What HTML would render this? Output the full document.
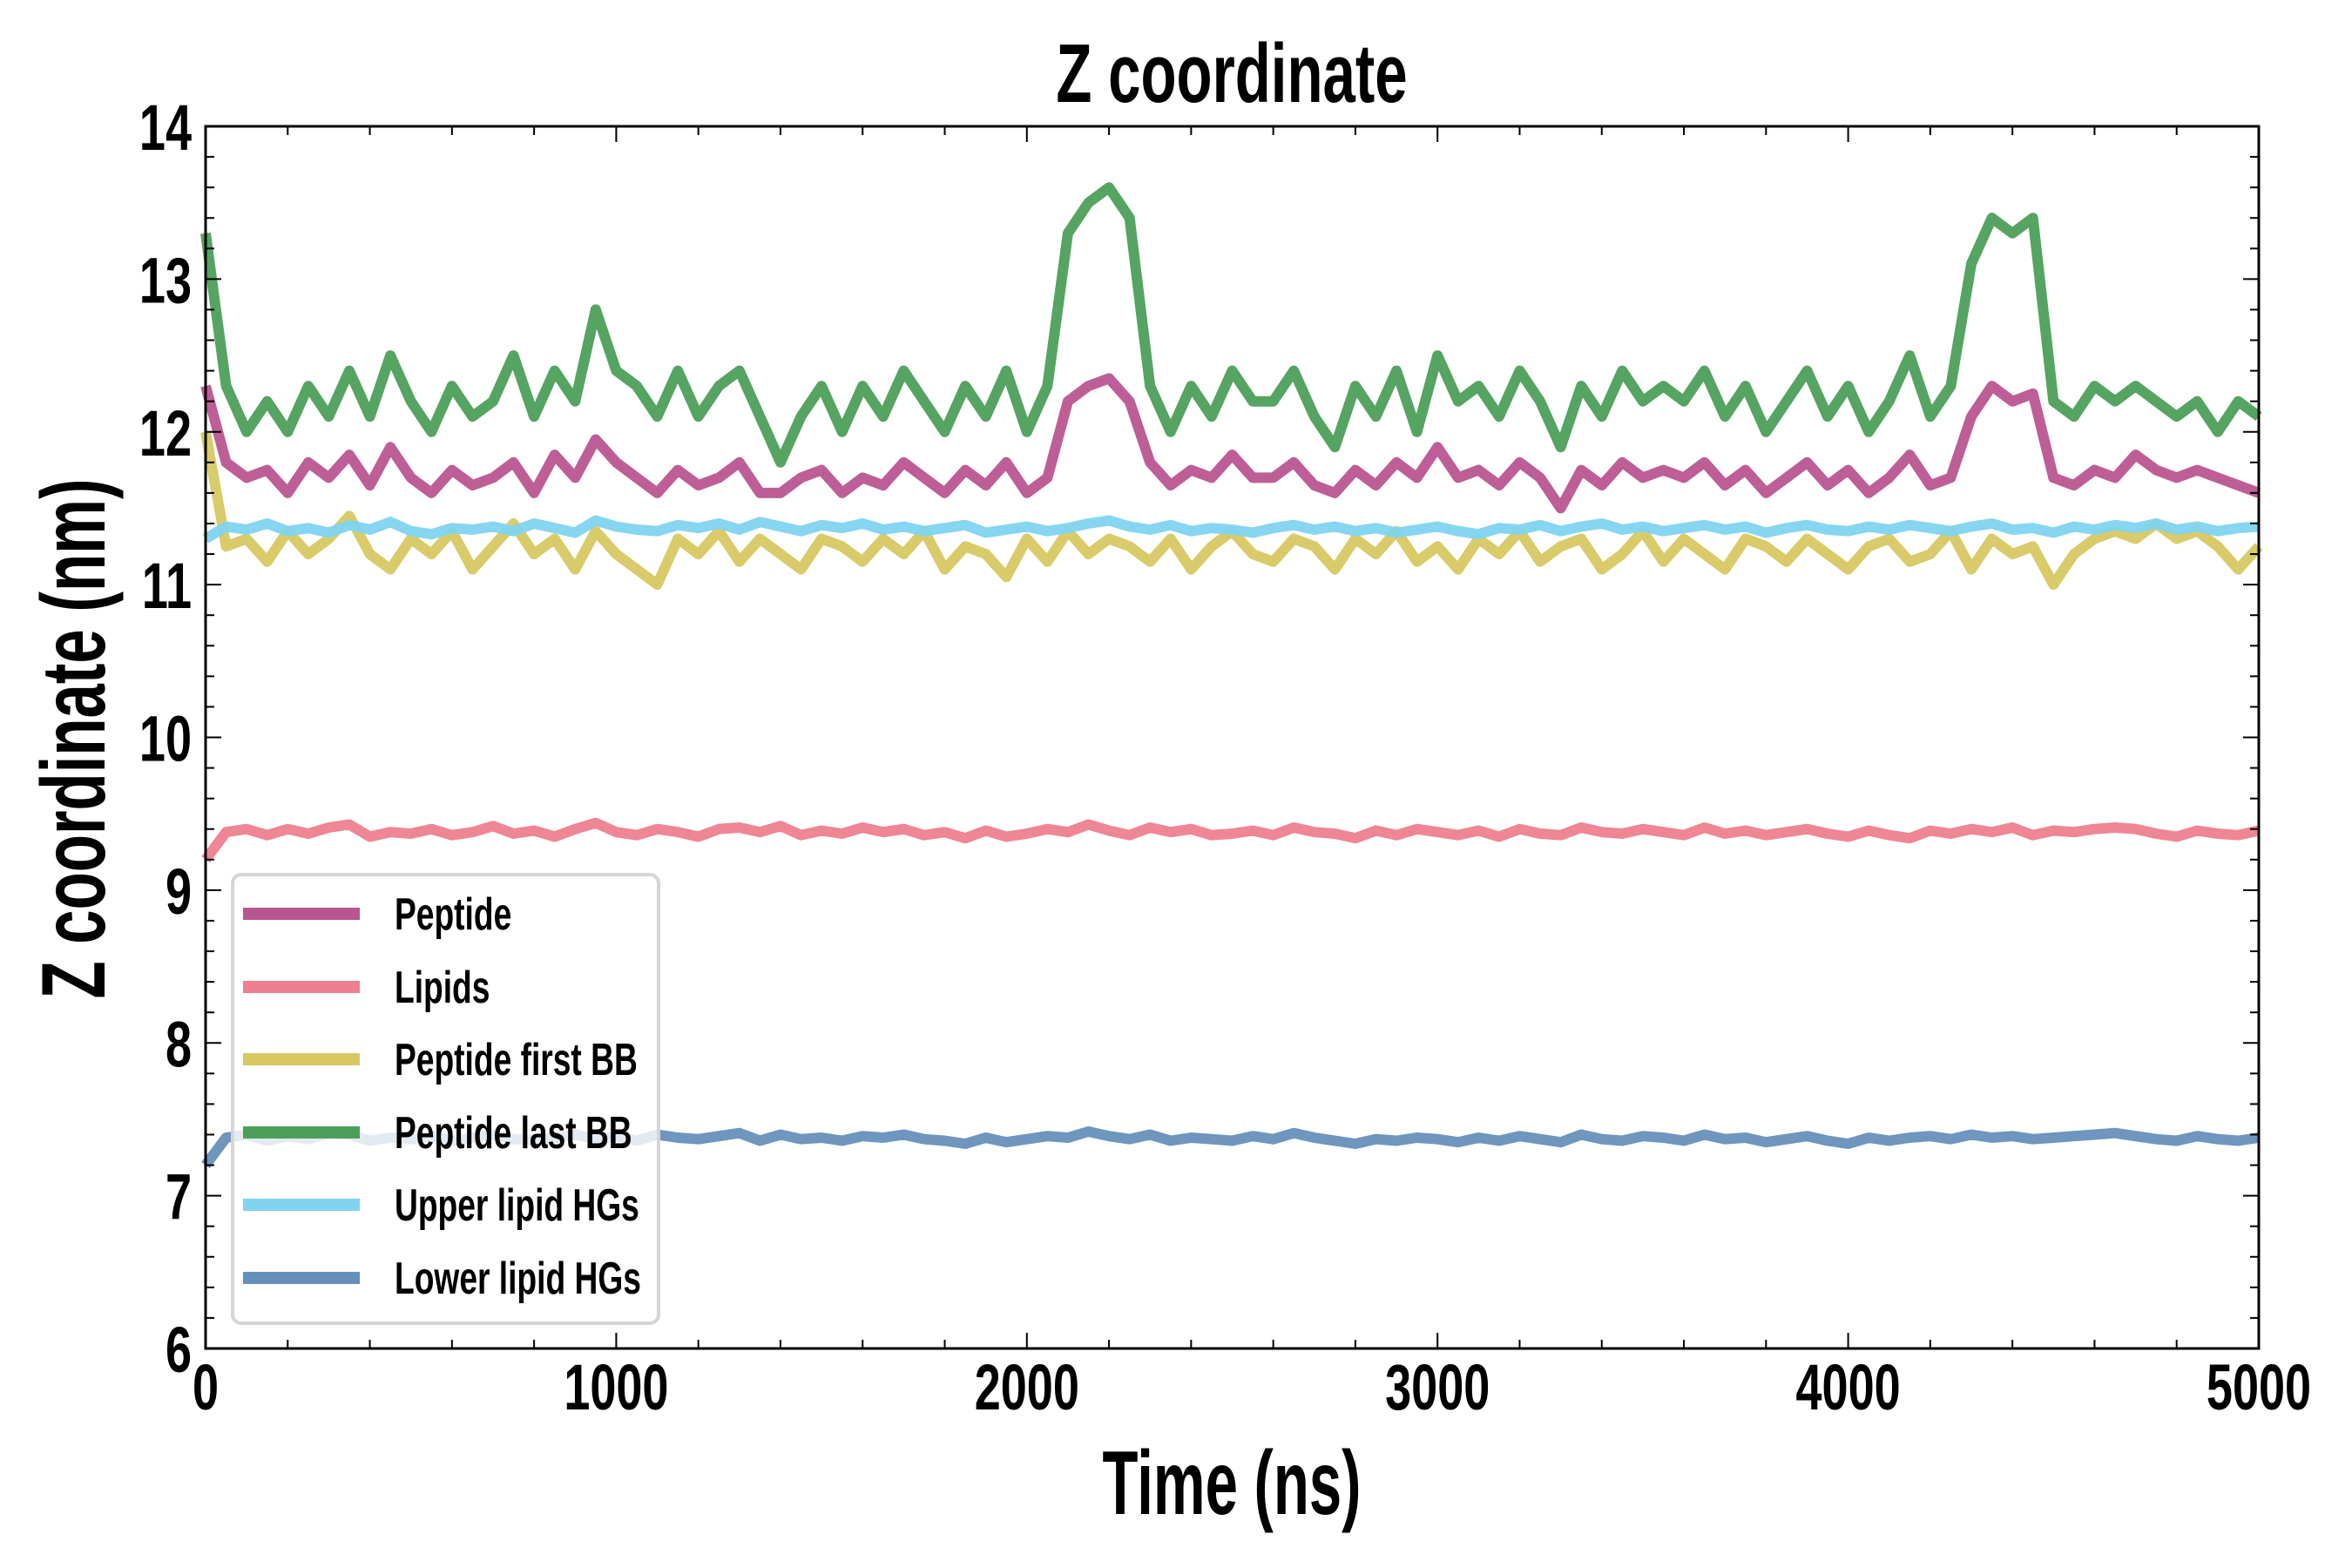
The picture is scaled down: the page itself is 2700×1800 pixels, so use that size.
<!DOCTYPE html>
<html><head><meta charset="utf-8"><style>
body{margin:0;background:#fff;}
svg{display:block;font-family:"Liberation Sans Narrow","Liberation Sans",sans-serif;font-weight:bold;}
</style></head><body>
<svg id="chart" width="2700" height="1800" viewBox="0 0 2700 1800" xmlns="http://www.w3.org/2000/svg">
<rect width="2700" height="1800" fill="#fff"/>
<text transform="translate(1414,117) scale(0.70,1)" font-size="96" text-anchor="middle">Z coordinate</text>
<text transform="translate(1414,1738) scale(0.645,1)" font-size="104" text-anchor="middle">Time (ns)</text>
<text transform="translate(120,848) rotate(-90) scale(0.68,1)" font-size="104" text-anchor="middle">Z coordinate (nm)</text>
<g id="series"></g>
<g id="axes"></g>
<g id="legend"></g>
</svg>
<script>
const times = [];
for (let t = 0; t <= 5000; t += 50) times.push(t);
const seriesNames = ["Peptide","Lipids","Peptide first BB","Peptide last BB","Upper lipid HGs","Lower lipid HGs"];
const peptide = [12.3,11.8,11.7,11.75,11.6,11.8,11.7,11.85,11.65,11.9,11.7,11.6,11.75,11.65,11.7,11.8,11.6,11.85,11.7,11.95,11.8,11.7,11.6,11.75,11.65,11.7,11.8,11.6,11.6,11.7,11.75,11.6,11.7,11.65,11.8,11.7,11.6,11.75,11.65,11.8,11.6,11.7,12.2,12.3,12.35,12.2,11.8,11.65,11.75,11.7,11.85,11.7,11.7,11.8,11.65,11.6,11.75,11.65,11.8,11.7,11.9,11.7,11.75,11.65,11.8,11.7,11.5,11.75,11.65,11.8,11.7,11.75,11.7,11.8,11.65,11.75,11.6,11.7,11.8,11.65,11.75,11.6,11.7,11.85,11.65,11.7,12.1,12.3,12.2,12.25,11.7,11.65,11.75,11.7,11.85,11.75,11.7,11.75,11.7,11.65,11.6];
const lipids = [9.2,9.38,9.4,9.36,9.4,9.37,9.41,9.43,9.35,9.38,9.37,9.4,9.36,9.38,9.42,9.37,9.39,9.35,9.4,9.44,9.38,9.36,9.4,9.38,9.35,9.4,9.41,9.38,9.42,9.36,9.39,9.37,9.41,9.38,9.4,9.36,9.38,9.34,9.39,9.35,9.37,9.4,9.38,9.43,9.39,9.36,9.41,9.38,9.4,9.36,9.37,9.39,9.36,9.41,9.38,9.37,9.34,9.39,9.36,9.4,9.38,9.36,9.39,9.35,9.4,9.37,9.36,9.41,9.38,9.37,9.4,9.38,9.36,9.41,9.37,9.39,9.36,9.38,9.4,9.37,9.35,9.39,9.36,9.34,9.39,9.37,9.4,9.38,9.41,9.36,9.39,9.38,9.4,9.41,9.4,9.37,9.35,9.39,9.37,9.36,9.39];
const firstBB = [12.0,11.25,11.3,11.15,11.35,11.2,11.3,11.45,11.2,11.1,11.3,11.2,11.35,11.1,11.25,11.4,11.2,11.3,11.1,11.35,11.2,11.1,11.0,11.3,11.2,11.35,11.15,11.3,11.2,11.1,11.3,11.25,11.15,11.3,11.2,11.35,11.1,11.25,11.2,11.05,11.3,11.15,11.35,11.2,11.3,11.25,11.15,11.3,11.1,11.25,11.35,11.2,11.15,11.3,11.25,11.1,11.3,11.2,11.35,11.15,11.25,11.1,11.3,11.2,11.35,11.15,11.25,11.3,11.1,11.2,11.35,11.15,11.3,11.2,11.1,11.3,11.25,11.15,11.3,11.2,11.1,11.25,11.3,11.15,11.2,11.35,11.1,11.3,11.2,11.25,11.0,11.2,11.3,11.35,11.3,11.4,11.3,11.35,11.25,11.1,11.25];
const lastBB = [13.3,12.3,12.0,12.2,12.0,12.3,12.1,12.4,12.1,12.5,12.2,12.0,12.3,12.1,12.2,12.5,12.1,12.4,12.2,12.8,12.4,12.3,12.1,12.4,12.1,12.3,12.4,12.1,11.8,12.1,12.3,12.0,12.3,12.1,12.4,12.2,12.0,12.3,12.1,12.4,12.0,12.3,13.3,13.5,13.6,13.4,12.3,12.0,12.3,12.1,12.4,12.2,12.2,12.4,12.1,11.9,12.3,12.1,12.4,12.0,12.5,12.2,12.3,12.1,12.4,12.2,11.9,12.3,12.1,12.4,12.2,12.3,12.2,12.4,12.1,12.3,12.0,12.2,12.4,12.1,12.3,12.0,12.2,12.5,12.1,12.3,13.1,13.4,13.3,13.4,12.2,12.1,12.3,12.2,12.3,12.2,12.1,12.2,12.0,12.2,12.1];
const upperHG = [11.3,11.38,11.36,11.4,11.35,11.37,11.34,11.39,11.36,11.41,11.35,11.33,11.37,11.36,11.38,11.35,11.4,11.37,11.34,11.42,11.38,11.36,11.35,11.39,11.37,11.4,11.36,11.41,11.38,11.35,11.39,11.37,11.4,11.36,11.38,11.35,11.37,11.39,11.34,11.36,11.38,11.35,11.37,11.4,11.42,11.38,11.36,11.39,11.35,11.37,11.36,11.34,11.37,11.39,11.36,11.38,11.35,11.37,11.34,11.36,11.38,11.35,11.33,11.37,11.36,11.39,11.35,11.38,11.4,11.36,11.38,11.35,11.37,11.39,11.36,11.38,11.34,11.37,11.39,11.36,11.35,11.38,11.36,11.39,11.37,11.35,11.38,11.4,11.36,11.37,11.34,11.38,11.36,11.39,11.37,11.4,11.36,11.38,11.35,11.37,11.38];
const lowerHG = [7.2,7.38,7.4,7.36,7.39,7.37,7.41,7.4,7.36,7.38,7.37,7.39,7.36,7.38,7.4,7.37,7.36,7.38,7.4,7.37,7.39,7.36,7.4,7.38,7.37,7.39,7.41,7.36,7.4,7.37,7.38,7.36,7.39,7.38,7.4,7.37,7.36,7.34,7.38,7.35,7.37,7.39,7.38,7.42,7.39,7.37,7.4,7.36,7.38,7.37,7.36,7.39,7.37,7.41,7.38,7.36,7.34,7.37,7.36,7.38,7.37,7.35,7.38,7.36,7.39,7.37,7.35,7.4,7.37,7.36,7.39,7.38,7.36,7.4,7.37,7.38,7.35,7.37,7.39,7.36,7.34,7.38,7.36,7.38,7.39,7.37,7.4,7.38,7.39,7.37,7.38,7.39,7.4,7.41,7.39,7.37,7.36,7.39,7.37,7.36,7.38];
const xTickLabels = ["0","1000","2000","3000","4000","5000"];
const yTickLabels = ["6","7","8","9","10","11","12","13","14"];
const colors = ["#bb5590","#ee7f8e","#d8c862","#4c9f5a","#80d4f0","#6690bb"];

const L=236,R=2593,T=145,B=1548;
const xs = v => L + (v-0)/(5000-0)*(R-L);
const ys = v => B - (v-6)/(14-6)*(B-T);
const NS="http://www.w3.org/2000/svg";
function mk(tag, attrs, parent){const e=document.createElementNS(NS,tag);for(const k in attrs)e.setAttribute(k,attrs[k]);parent.appendChild(e);return e;}

const allSeries=[peptide,lipids,firstBB,lastBB,upperHG,lowerHG];
const sg=document.getElementById('series');
const slugs=["peptide-line","lipids-line","peptide-first-bb-line","peptide-last-bb-line","upper-lipid-hgs-line","lower-lipid-hgs-line"];
allSeries.forEach((arr,i)=>{
  const d=arr.map((v,j)=>(j?'L':'M')+xs(times[j]).toFixed(1)+','+ys(v).toFixed(1)).join('');
  const p=mk('path',{d:d,fill:'none',stroke:colors[i],'stroke-width':12,'stroke-linejoin':'round','stroke-opacity':0.95},sg);
  
  
});

const ag=document.getElementById('axes');
const frame=mk('rect',{x:L,y:T,width:R-L,height:B-T,fill:'none',stroke:'#000','stroke-width':3},ag);


for(let t=0;t<=5000;t+=200){
  const x=xs(t), len=(t%1000===0)?18:10;
  mk('line',{x1:x,y1:B,x2:x,y2:B-len,stroke:'#000','stroke-width':2},ag);
  mk('line',{x1:x,y1:T,x2:x,y2:T+len,stroke:'#000','stroke-width':2},ag);
}
for(let k=0;k<=40;k++){
  const v=6+k*0.2, y=ys(v), len=(k%5===0)?18:10;
  mk('line',{x1:L,y1:y,x2:L+len,y2:y,stroke:'#000','stroke-width':2},ag);
  mk('line',{x1:R,y1:y,x2:R-len,y2:y,stroke:'#000','stroke-width':2},ag);
}
xTickLabels.forEach((lab,i)=>{
  const t=mk('text',{transform:'translate('+xs(Number(lab))+','+(B+70)+') scale(0.73,1)','font-size':74,'text-anchor':'middle'},ag);
  t.textContent=lab;
  
  
});
yTickLabels.forEach((lab,i)=>{
  const t=mk('text',{transform:'translate('+(L-16)+','+(ys(Number(lab))+27)+') scale(0.73,1)','font-size':74,'text-anchor':'end'},ag);
  t.textContent=lab;
  
  
});

const lg=document.getElementById('legend');


mk('rect',{x:267,y:1004,width:489,height:515,rx:10,fill:'#fff','fill-opacity':0.8,stroke:'#d6d6d6','stroke-width':4},lg);
const ly=[1049,1133,1216,1300,1383,1467];
seriesNames.forEach((n,i)=>{
  const g=mk('g',{},lg);
  
  
  mk('line',{x1:279,y1:ly[i],x2:413,y2:ly[i],stroke:colors[i],'stroke-width':14},g);
  const t=mk('text',{transform:'translate(453,'+(ly[i]+18)+') scale(0.715,1)','font-size':52},g);
  t.textContent=n;
});
</script>
</body></html>
